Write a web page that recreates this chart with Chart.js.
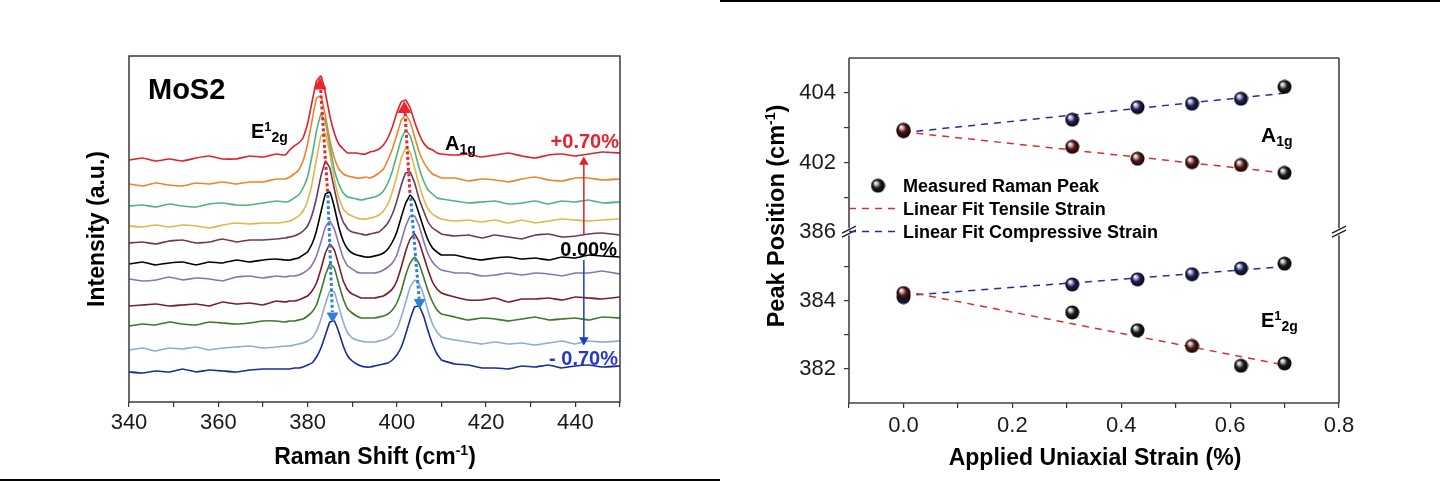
<!DOCTYPE html>
<html><head><meta charset="utf-8">
<script src="https://cdn.jsdelivr.net/npm/chart.js@4.4.1/dist/chart.umd.min.js"></script>
<style>
html,body{margin:0;padding:0;background:#fff;}
#wrap{position:relative;width:1440px;height:482px;overflow:hidden;background:#fff;}
.pane{position:absolute;top:0;width:720px;height:482px;}
#lineTop{position:absolute;left:720px;top:0;width:720px;height:2px;background:#000;}
#lineBot{position:absolute;left:0;top:479px;width:720px;height:2px;background:#000;}
</style></head><body>
<div id="wrap">
<div class="pane" style="left:0"><canvas id="c1" width="720" height="482"></canvas></div>
<div class="pane" style="left:720px"><canvas id="c2" width="720" height="482"></canvas></div>
<div id="lineTop"></div><div id="lineBot"></div>
</div>
<script>
// ---------------- LEFT PANEL DATA (Raman spectra, stacked) ----------------
const ramanShift = [340,343,346,349,352,355,358,361,364,367,370,373,
 375,376,377,378,379,380,381,382,383,384,385,386,387,388,389,390,391,392,393,394,395,396,397,398,399,400,401,402,403,404,405,406,407,408,409,410,
 413,416,419,422,425,428,431,434,437,440,443,446,450];
// stacking offsets (a.u.) from top (+0.70 %) to bottom (-0.70 %)
const offsets = [242,217,196,175,159,138,122,96,77,52,30];
const specT070 = [0,2,-1,1,-1,2,4,1,1,4,3,6, 5,10,14,17,22,36,58,79,84,67,44,27,16,11,7,7,7,6,6,8,9,11,15,22,33,47,58,60,52,38,26,17,12,10,7,6, 5,6,3,5,7,4,2,5,6,4,6,8,7];
const specT062 = [1,-1,2,0,-1,2,1,3,1,3,3,6, 6,8,11,15,24,41,64,87,89,69,45,27,16,11,9,8,7,7,8,7,9,12,16,25,36,50,65,70,63,48,33,23,16,11,9,7, 7,4,6,5,3,6,8,5,4,7,7,5,6];
const specT053 = [0,1,-1,2,0,-1,2,3,1,1,3,5, 4,5,8,11,18,29,50,75,92,84,60,36,22,13,9,8,7,6,7,8,9,11,15,23,35,51,67,76,70,55,38,25,16,12,8,7, 5,3,4,5,2,3,5,2,5,4,6,3,4];
const specT043 = [1,0,2,0,2,1,-1,2,4,3,4,4, 5,6,8,11,16,26,43,68,91,94,73,48,29,18,13,11,9,8,8,9,10,12,16,23,35,51,69,79,75,59,42,28,18,13,10,8, 6,7,5,7,4,7,4,6,8,7,6,7,8];
const specT031 = [0,1,-1,2,3,0,1,4,1,3,3,4, 5,6,7,9,12,17,28,45,67,82,75,54,34,21,14,11,10,9,8,9,10,11,15,20,29,42,58,70,71,60,44,32,21,15,12,9, 7,8,5,8,6,4,8,9,6,7,9,10,8];
const spec000 = [0,2,-1,1,2,-1,2,1,4,2,4,5, 4,4,5,6,9,12,20,33,52,70,72,57,37,23,15,11,9,8,7,7,8,9,11,15,22,32,47,61,69,63,50,36,24,16,12,9, 9,6,4,6,7,5,6,4,7,6,9,8,7];
const specC031 = [1,-1,0,3,0,2,1,-1,3,4,2,4, 3,4,4,5,7,10,15,24,38,53,59,51,36,22,14,11,8,7,7,7,7,8,10,13,17,25,39,54,64,64,54,39,26,18,13,10, 7,7,4,5,7,5,7,6,4,7,7,9,6];
const specC043 = [0,1,2,0,1,2,0,4,2,3,1,5, 4,5,5,6,8,10,15,23,37,53,62,56,41,25,16,12,10,8,8,8,8,9,10,13,17,25,39,55,67,72,64,50,36,24,17,13, 9,6,6,8,4,7,7,8,6,9,8,7,9];
const specC053 = [-1,1,0,3,1,0,3,2,1,2,4,4, 3,4,4,5,6,9,13,20,34,50,61,57,41,26,16,12,9,7,7,7,7,8,9,11,15,22,34,50,62,68,61,48,34,23,15,11, 8,5,7,6,4,6,8,5,6,7,5,8,7];
const specC062 = [0,2,-1,2,1,3,0,2,3,4,2,3, 4,4,5,6,7,9,12,19,31,46,59,58,43,28,17,12,10,9,8,8,8,9,10,12,15,21,33,48,63,70,66,55,39,26,18,13, 10,8,6,8,6,7,5,7,9,6,9,8,9];
const specC070 = [0,-1,1,0,3,0,2,1,0,2,3,3, 3,3,4,4,5,7,9,15,24,37,50,51,40,26,16,11,8,6,5,5,6,7,8,9,12,17,25,38,53,65,66,56,41,28,18,12, 8,7,4,4,3,6,5,7,4,6,7,5,6];
const spectra = [specT070,specT062,specT053,specT043,specT031,spec000,specC031,specC043,specC053,specC062,specC070];
const specColors = ['#e0202a','#f0822a','#4db57a','#e3b54a','#6a3a5a','#000000','#8e72ad','#7a1c2a','#3b7b25','#90aad0','#1a2a9a'];

// peak-shift guides (Raman shift, a.u.)
const guideRedE = [[382.95,312],[384.5,210]];
const guideRedA = [[401.85,289],[402.95,208]];
const guideBlueE = [[384.55,207],[385.55,90]];
const guideBlueA = [[403.1,204],[405.0,103]];
const headsUp = [[382.8,316.5],[401.7,293]];
const headsDown = [[385.6,86],[405.1,99.6]];
const arrowTensile = [[441.9,168],[441.9,240]];
const arrowCompress = [[441.9,142],[441.9,62]];

// ---------------- RIGHT PANEL DATA ----------------
const strain = [0, 0.31, 0.43, 0.53, 0.62, 0.70];
const a1gTensile = [402.94, 402.45, 402.11, 402.01, 401.93, 401.70];
const a1gCompressive = [402.90, 403.23, 403.59, 403.69, 403.83, 404.17];
const e2gTensile = [384.22, 383.65, 383.13, 382.67, 382.09, 382.16];
const e2gCompressive = [384.10, 384.47, 384.62, 384.77, 384.94, 385.08];
const fitStrain = [0, 0.70];
const fitA1gTensile = [402.88, 401.70];
const fitA1gCompressive = [402.86, 403.99];
const fitE2gTensile = [384.28, 382.11];
const fitE2gCompressive = [384.14, 384.99];
const tintA1gT = ['r','r','r','r','r','k'];
const tintA1gC = ['b','b','b','b','b','k'];
const tintE2gT = ['r','k','k','r','k','k'];
const tintE2gC = ['b','b','b','b','b','k'];

// ---------------- helpers ----------------
const FONT = '"Liberation Sans", Arial, Helvetica, sans-serif';
Chart.defaults.font.family = FONT;
Chart.defaults.animation = false;
function pts(arr){ return arr.map(p => ({x:p[0], y:p[1]})); }
function rich(ctx, parts, x, y, align, color, rotate){
  ctx.save();
  ctx.fillStyle = color || '#111';
  ctx.textBaseline = 'alphabetic'; ctx.textAlign = 'left';
  let w = 0;
  parts.forEach(p => { ctx.font = 'bold ' + p.s + 'px ' + FONT; p.w = ctx.measureText(p.t).width; w += p.w; });
  ctx.translate(x, y);
  if (rotate) ctx.rotate(-Math.PI/2);
  let cx = align === 'center' ? -w/2 : (align === 'right' ? -w : 0);
  parts.forEach(p => { ctx.font = 'bold ' + p.s + 'px ' + FONT; ctx.fillText(p.t, cx, p.dy || 0); cx += p.w; });
  ctx.restore();
}
function sphere(mid){
  const c = document.createElement('canvas'); c.width = 15; c.height = 15;
  const g = c.getContext('2d');
  const gr = g.createRadialGradient(5, 4.5, 0.3, 7.5, 7.5, 7.5);
  gr.addColorStop(0, '#ffffff'); gr.addColorStop(0.22, '#b4b4b4'); gr.addColorStop(0.5, mid); gr.addColorStop(1, '#040404');
  g.fillStyle = gr; g.beginPath(); g.arc(7.5, 7.5, 7, 0, Math.PI*2); g.fill();
  return c;
}
const balls = { k: sphere('#1c1c1c'), r: sphere('#5e1414'), b: sphere('#1e1e66') };

// ---------------- LEFT CHART ----------------
const leftSets = spectra.map((arr, i) => ({
  type:'line', data: ramanShift.map((x, j) => ({x, y: arr[j] + offsets[i]})),
  borderColor: specColors[i], borderWidth: 1.6, pointRadius: 0, tension: 0.08, order: 5, fill:false
}));
function guide(d, color){ return {type:'line', data: pts(d), borderColor: color, borderWidth: 3, borderDash:[3,2.5], pointRadius:0, order: 2, fill:false}; }
leftSets.push(guide(guideRedE, '#e8262e'), guide(guideRedA, '#e8262e'), guide(guideBlueE, '#2b82d6'), guide(guideBlueA, '#2b82d6'));
leftSets.push({type:'line', showLine:false, data: pts(headsUp), pointStyle:'triangle', pointRadius:7, rotation:0, backgroundColor:'#e8262e', borderColor:'#e8262e', borderWidth:1, order:1});
leftSets.push({type:'line', showLine:false, data: pts(headsDown), pointStyle:'triangle', pointRadius:6, rotation:180, backgroundColor:'#2b82d6', borderColor:'#2b82d6', borderWidth:1, order:1});
leftSets.push({type:'line', data: pts(arrowTensile), borderColor:'#e02020', borderWidth:1.5, pointRadius:[0,4], pointStyle:'triangle', rotation:0, backgroundColor:'#e02020', order:1});
leftSets.push({type:'line', data: pts(arrowCompress), borderColor:'#1c3ad8', borderWidth:1.5, pointRadius:[0,4], pointStyle:'triangle', rotation:180, backgroundColor:'#1c3ad8', order:1});

const leftDecor = {
  id:'leftDecor',
  afterDatasetsDraw(chart){
    const {ctx, chartArea:a} = chart;
    ctx.save(); ctx.strokeStyle = '#3a3a3a'; ctx.lineWidth = 1.5;
    ctx.strokeRect(a.left, a.top, a.right - a.left, a.bottom - a.top); ctx.restore();
  },
  afterDraw(chart){
    const ctx = chart.ctx;
    rich(ctx, [{t:'MoS2', s:29}], 148, 99, 'left', '#000');
    rich(ctx, [{t:'E', s:20}, {t:'1', s:13, dy:-7}, {t:'2g', s:14, dy:4}], 251, 138, 'left', '#000');
    rich(ctx, [{t:'A', s:20}, {t:'1g', s:14, dy:4}], 445, 150, 'left', '#000');
    rich(ctx, [{t:'+0.70%', s:20}], 619, 148, 'right', '#e8202a');
    rich(ctx, [{t:'0.00%', s:20}], 617, 256, 'right', '#000');
    rich(ctx, [{t:'- 0.70%', s:20}], 618, 365, 'right', '#2838c8');
    rich(ctx, [{t:'Intensity (a.u.)', s:23}], 104, 229, 'center', '#000', true);
    rich(ctx, [{t:'Raman Shift (cm', s:23}, {t:'-1', s:14, dy:-9}, {t:')', s:23}], 375, 464, 'center', '#000');
  }
};

new Chart(document.getElementById('c1'), {
  type:'line',
  data:{ datasets: leftSets },
  options:{
    responsive:false, devicePixelRatio:1, animation:false,
    layout:{padding:{left:129, right:100, top:56, bottom:0}},
    plugins:{legend:{display:false}, tooltip:{enabled:false}},
    scales:{
      x:{type:'linear', min:340, max:450,
         ticks:{stepSize:10, autoSkip:false, maxRotation:0, padding:3, color:'#1a1a1a', font:{size:22},
                callback:v => (v % 20 === 0 && v < 450) ? String(v) : ''},
         grid:{drawOnChartArea:false, tickLength:5, color:'#333', lineWidth:1.2},
         border:{display:false},
         afterFit:s => { s.height = 80; }},
      y:{display:false, min:0, max:346}
    }
  },
  plugins:[leftDecor]
});

// ---------------- RIGHT CHART ----------------
function ballSet(vals, tint, axis){
  return {type:'scatter', data: strain.map((x, i) => ({x, y: vals[i]})), yAxisID: axis,
    pointStyle: tint.map(k => balls[k]), pointRadius: 7, order: 0};
}
function fitSet(vals, color, axis){
  return {type:'scatter', showLine:true, data: fitStrain.map((x, i) => ({x, y: vals[i]})), yAxisID: axis,
    borderColor: color, borderWidth: 1.5, borderDash:[7,6], pointRadius: 0, order: 1};
}
const rightSets = [
  fitSet(fitA1gTensile, '#d83030', 'yTop'), fitSet(fitA1gCompressive, '#2a2aa8', 'yTop'),
  fitSet(fitE2gTensile, '#d83030', 'yBot'), fitSet(fitE2gCompressive, '#2a2aa8', 'yBot'),
  ballSet(a1gTensile, tintA1gT, 'yTop'), ballSet(a1gCompressive, tintA1gC, 'yTop'),
  ballSet(e2gTensile, tintE2gT, 'yBot'), ballSet(e2gCompressive, tintE2gC, 'yBot')
];
const hideAt = vals => (ctx => (ctx.tick && vals.includes(ctx.tick.value)) ? 'rgba(0,0,0,0)' : '#333');
const rightDecor = {
  id:'rightDecor',
  afterDatasetsDraw(chart){
    const {ctx, chartArea:a, scales} = chart;
    const yb = scales.yTop.bottom;
    ctx.save(); ctx.strokeStyle = '#444'; ctx.lineWidth = 1.6;
    ctx.beginPath();
    ctx.moveTo(a.left, a.top); ctx.lineTo(a.right, a.top);
    ctx.moveTo(a.left, a.bottom); ctx.lineTo(a.right, a.bottom);
    [a.left, a.right].forEach(xx => {
      ctx.moveTo(xx, a.top); ctx.lineTo(xx, yb - 4);
      ctx.moveTo(xx, yb + 3); ctx.lineTo(xx, a.bottom);
    });
    ctx.stroke();
    ctx.lineWidth = 1.4; ctx.strokeStyle = '#222';
    ctx.beginPath();
    [a.left, a.right].forEach(xx => {
      ctx.moveTo(xx - 7, yb + 1); ctx.lineTo(xx + 7, yb - 6);
      ctx.moveTo(xx - 7, yb + 5); ctx.lineTo(xx + 7, yb - 2);
    });
    ctx.stroke();
    ctx.restore();
  },
  afterDraw(chart){
    const ctx = chart.ctx;
    // legend
    ctx.drawImage(balls.k, 158 - 7.5, 185.7 - 7.5);
    ctx.save(); ctx.lineWidth = 1.5; ctx.setLineDash([7,6]);
    ctx.strokeStyle = '#d83030'; ctx.beginPath(); ctx.moveTo(129, 208.5); ctx.lineTo(180, 208.5); ctx.stroke();
    ctx.strokeStyle = '#2a2aa8'; ctx.beginPath(); ctx.moveTo(129, 231.5); ctx.lineTo(180, 231.5); ctx.stroke();
    ctx.restore();
    rich(ctx, [{t:'Measured Raman Peak', s:18}], 183, 192, 'left', '#000');
    rich(ctx, [{t:'Linear Fit Tensile Strain', s:18}], 183, 215, 'left', '#000');
    rich(ctx, [{t:'Linear Fit Compressive Strain', s:18}], 183, 238, 'left', '#000');
    rich(ctx, [{t:'A', s:21}, {t:'1g', s:14, dy:4}], 541, 142, 'left', '#000');
    rich(ctx, [{t:'E', s:20}, {t:'1', s:13, dy:-7}, {t:'2g', s:14, dy:4}], 541, 327, 'left', '#000');
    rich(ctx, [{t:'Peak Position (cm', s:23.5}, {t:'-1', s:14, dy:-9}, {t:')', s:23.5}], 64, 216, 'center', '#000', true);
    rich(ctx, [{t:'Applied Uniaxial Strain (%)', s:23}], 375, 465, 'center', '#000');
  }
};
new Chart(document.getElementById('c2'), {
  type:'scatter',
  data:{ datasets: rightSets },
  options:{
    responsive:false, devicePixelRatio:1, animation:false,
    layout:{padding:{left:0, right:101, top:58, bottom:0}},
    plugins:{legend:{display:false}, tooltip:{enabled:false}},
    scales:{
      x:{type:'linear', min:-0.1, max:0.8,
         ticks:{stepSize:0.1, autoSkip:false, maxRotation:0, padding:5, color:'#1a1a1a', font:{size:22},
                callback:v => { const k = Math.round(v*10); return (k >= 0 && k % 2 === 0) ? (k/10).toFixed(1) : ''; }},
         grid:{drawOnChartArea:false, tickLength:5, color:'#333', lineWidth:1.2},
         border:{display:false},
         afterFit:s => { s.height = 79; }},
      yBot:{type:'linear', position:'left', stack:'peak', stackWeight:1, min:381, max:386,
         ticks:{stepSize:1, autoSkip:false, padding:8, color:'#1a1a1a', font:{size:22},
                callback:v => (v === 386 || v === 384 || v === 382) ? String(v) : ''},
         grid:{drawOnChartArea:false, tickLength:5, color:hideAt([386,381]), lineWidth:1.2},
         border:{display:false},
         afterFit:s => { s.width = 129; }},
      yTop:{type:'linear', position:'left', stack:'peak', stackWeight:1.02, min:400, max:405,
         ticks:{stepSize:1, autoSkip:false, padding:8, color:'#1a1a1a', font:{size:22},
                callback:v => (v === 404 || v === 402) ? String(v) : ''},
         grid:{drawOnChartArea:false, tickLength:5, color:hideAt([405,400]), lineWidth:1.2},
         border:{display:false},
         afterFit:s => { s.width = 129; }}
    }
  },
  plugins:[rightDecor]
});
</script>
</body></html>
